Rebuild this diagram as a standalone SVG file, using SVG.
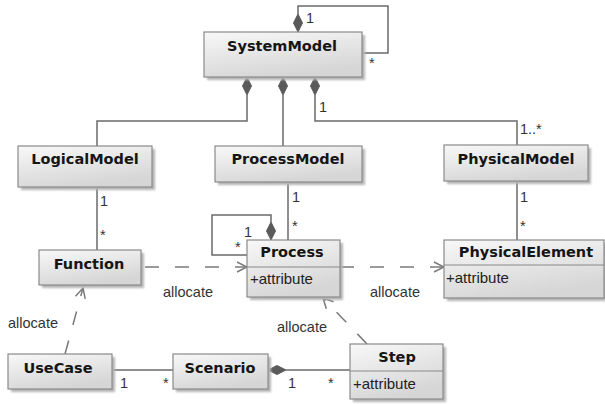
<svg xmlns="http://www.w3.org/2000/svg" width="605" height="404" viewBox="0 0 605 404">
  <style>
    .box { fill: url(#boxFill); stroke: #8a8a8a; stroke-width: 1.2; }
    .shadow { fill: #b4b4b4; filter: url(#soft); }
    .name { font-family: "DejaVu Sans", sans-serif; font-weight: bold; font-size: 14.5px; fill: #151515; text-anchor: middle; }
    .attr { font-family: "Liberation Sans", Arial, sans-serif; font-size: 15px; fill: #222; }
    .lbl { font-family: "Liberation Sans", Arial, sans-serif; font-size: 14.5px; fill: #333; }
    .line { fill: none; stroke: #6a6a6a; stroke-width: 1.5; }
    .dash { fill: none; stroke: #7a7a7a; stroke-width: 1.5; stroke-dasharray: 14 16; marker-end: url(#openArrow); }
    .diamond { fill: #5a5a5a; stroke: #5a5a5a; stroke-width: 1; }
    .sep { stroke: #8a8a8a; stroke-width: 1.2; }
  </style>
  <defs>
    <linearGradient id="boxFill" x1="0" y1="0" x2="0.4" y2="1">
      <stop offset="0" stop-color="#f8f8f8"/>
      <stop offset="1" stop-color="#d6d6d6"/>
    </linearGradient>
    <filter id="soft" x="-10%" y="-10%" width="120%" height="120%">
      <feGaussianBlur stdDeviation="0.8"/>
    </filter>
    <marker id="openArrow" viewBox="0 0 12 12" refX="11" refY="6" markerWidth="12" markerHeight="12" markerUnits="userSpaceOnUse" orient="auto">
      <path d="M1,1 L11,6 L1,11" fill="none" stroke="#7a7a7a" stroke-width="1.5"/>
    </marker>
  </defs>

  <rect width="605" height="404" fill="#ffffff"/>

  <!-- connectors -->
  <g id="connectors">
    <!-- SystemModel self composition -->
    <path class="line" d="M298,14 V6 H388 V53 H362"/>
    <polygon class="diamond" points="298,14 302.5,23 298,32 293.5,23"/>
    <text class="lbl" x="306" y="23">1</text>
    <text class="lbl" x="369" y="68">*</text>

    <!-- SystemModel to LogicalModel -->
    <path class="line" d="M247,95 V121 H97 V146"/>
    <polygon class="diamond" points="247,77 251.5,86 247,95 242.5,86"/>

    <!-- SystemModel to ProcessModel -->
    <path class="line" d="M283,95 V146"/>
    <polygon class="diamond" points="283,77 287.5,86 283,95 278.5,86"/>

    <!-- SystemModel to PhysicalModel -->
    <path class="line" d="M315,95 V121 H517 V145"/>
    <polygon class="diamond" points="315,77 319.5,86 315,95 310.5,86"/>
    <text class="lbl" x="319" y="112">1</text>
    <text class="lbl" x="520" y="134">1..*</text>

    <!-- LogicalModel to Function -->
    <path class="line" d="M97,187 V250"/>
    <text class="lbl" x="100" y="206">1</text>
    <text class="lbl" x="100" y="240">*</text>

    <!-- ProcessModel to Process -->
    <path class="line" d="M288,182 V240"/>
    <text class="lbl" x="292" y="202">1</text>
    <text class="lbl" x="292" y="231">*</text>

    <!-- PhysicalModel to PhysicalElement -->
    <path class="line" d="M517,181 V240"/>
    <text class="lbl" x="520" y="202">1</text>
    <text class="lbl" x="520" y="231">*</text>

    <!-- Process self composition -->
    <path class="line" d="M271,222 V215 H212 V255 H247"/>
    <polygon class="diamond" points="271,222 275.5,231 271,240 266.5,231"/>
    <text class="lbl" x="244" y="237">1</text>
    <text class="lbl" x="235" y="252">*</text>

    <!-- allocate dependencies -->
    <path class="dash" d="M145,267 H247"/>
    <text class="lbl" x="163" y="297">allocate</text>

    <path class="dash" d="M340,267 H444"/>
    <text class="lbl" x="370" y="297">allocate</text>

    <path class="dash" d="M65,354 L83,288"/>
    <text class="lbl" x="8" y="328">allocate</text>

    <path class="dash" d="M367,344 L323,298"/>
    <text class="lbl" x="277" y="332">allocate</text>

    <!-- UseCase to Scenario -->
    <path class="line" d="M112,370 H173"/>
    <text class="lbl" x="120" y="388">1</text>
    <text class="lbl" x="163" y="388">*</text>

    <!-- Scenario to Step (composition) -->
    <path class="line" d="M286,370 H350"/>
    <polygon class="diamond" points="268,370 277,365.5 286,370 277,374.5"/>
    <text class="lbl" x="288" y="388">1</text>
    <text class="lbl" x="328" y="388">*</text>
  </g>

  <!-- classes -->
  <g id="SystemModel">
    <rect class="shadow" x="207" y="35" width="158" height="45"/>
    <rect class="box" x="204" y="32" width="158" height="45"/>
    <text class="name" x="282" y="51">SystemModel</text>
  </g>

  <g id="LogicalModel">
    <rect class="shadow" x="21" y="149" width="134" height="41"/>
    <rect class="box" x="18" y="146" width="134" height="41"/>
    <text class="name" x="85" y="164">LogicalModel</text>
  </g>

  <g id="ProcessModel">
    <rect class="shadow" x="218" y="149" width="147" height="36"/>
    <rect class="box" x="215" y="146" width="147" height="36"/>
    <text class="name" x="288" y="164">ProcessModel</text>
  </g>

  <g id="PhysicalModel">
    <rect class="shadow" x="447" y="148" width="144" height="36"/>
    <rect class="box" x="444" y="145" width="144" height="36"/>
    <text class="name" x="516" y="164">PhysicalModel</text>
  </g>

  <g id="Function">
    <rect class="shadow" x="42" y="253" width="102" height="35"/>
    <rect class="box" x="39" y="250" width="102" height="35"/>
    <text class="name" x="89" y="269">Function</text>
  </g>

  <g id="Process">
    <rect class="shadow" x="250" y="243" width="93" height="57"/>
    <rect class="box" x="247" y="240" width="93" height="57"/>
    <line class="sep" x1="247" y1="267" x2="340" y2="267"/>
    <text class="name" x="292" y="257">Process</text>
    <text class="attr" x="250" y="284">+attribute</text>
  </g>

  <g id="PhysicalElement">
    <rect class="shadow" x="447" y="243" width="160" height="58"/>
    <rect class="box" x="444" y="240" width="160" height="58"/>
    <line class="sep" x1="444" y1="265" x2="604" y2="265"/>
    <text class="name" x="526" y="257">PhysicalElement</text>
    <text class="attr" x="446" y="283">+attribute</text>
  </g>

  <g id="UseCase">
    <rect class="shadow" x="11" y="357" width="104" height="35"/>
    <rect class="box" x="8" y="354" width="104" height="35"/>
    <text class="name" x="58" y="373">UseCase</text>
  </g>

  <g id="Scenario">
    <rect class="shadow" x="176" y="357" width="95" height="35"/>
    <rect class="box" x="173" y="354" width="95" height="35"/>
    <text class="name" x="220" y="373">Scenario</text>
  </g>

  <g id="Step">
    <rect class="shadow" x="353" y="347" width="93" height="55"/>
    <rect class="box" x="350" y="344" width="93" height="55"/>
    <line class="sep" x1="350" y1="371" x2="443" y2="371"/>
    <text class="name" x="397" y="362">Step</text>
    <text class="attr" x="353" y="389">+attribute</text>
  </g>
</svg>
